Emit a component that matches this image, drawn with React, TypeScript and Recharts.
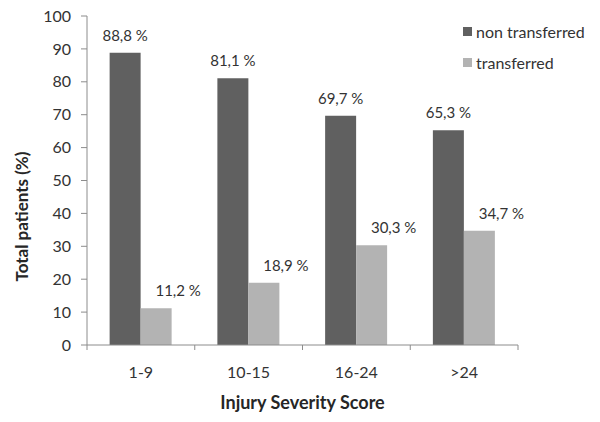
import React from 'react';
import { BarChart, Bar, XAxis, YAxis, Legend, LabelList } from 'recharts';

const categories = ['1-9', '10-15', '16-24', '>24'];
const nonTransferred = [88.8, 81.1, 69.7, 65.3];
const transferred = [11.2, 18.9, 30.3, 34.7];
const yTicks = [0, 10, 20, 30, 40, 50, 60, 70, 80, 90, 100];

const data = categories.map((c, i) => ({
  name: c,
  non: nonTransferred[i],
  tr: transferred[i],
}));

const FONT = 'Lato, "Open Sans", sans-serif';
const TEXT = '#333333';
const AXIS = '#8c8c8c';
const DARK = '#606060';
const LIGHT = '#b3b3b3';
const SERIES_COLORS = [DARK, LIGHT];

const fmt = (v: any) => `${Number(v).toFixed(1).replace('.', ',')}\u00a0%`;

const CategoryTick = (props: any) => {
  const { x, y, payload, index } = props;
  const half = payload && typeof payload.offset === 'number' ? payload.offset : 54;
  const axisY = y - 21;
  return (
    <g>
      <line x1={x - half} x2={x - half} y1={axisY} y2={axisY + 5} stroke={AXIS} />
      {index === categories.length - 1 && (
        <line x1={x + half} x2={x + half} y1={axisY} y2={axisY + 5} stroke={AXIS} />
      )}
      <text x={x} y={y} dy={11.5} textAnchor="middle" fill={TEXT} fontSize={16} fontFamily={FONT}>
        {payload.value}
      </text>
    </g>
  );
};

const LegendContent = (props: any) => {
  const { payload } = props;
  return (
    <div style={{ whiteSpace: 'nowrap', fontFamily: FONT, fontSize: 16, color: TEXT }}>
      {(payload || []).map((p: any, i: number) => (
        <div key={p.value} style={{ display: 'flex', alignItems: 'center', height: 31 }}>
          <div
            style={{
              width: 9,
              height: 9,
              flex: '0 0 9px',
              background: SERIES_COLORS[i] || p.color,
              marginRight: 4,
            }}
          />
          <span>{p.value}</span>
        </div>
      ))}
    </div>
  );
};

export default function App() {
  return (
    <div style={{ position: 'absolute', left: 0, top: 0, width: 600, height: 422, background: '#fff' }}>
      <BarChart
        width={600}
        height={422}
        data={data}
        margin={{ top: 16, right: 82, left: 0, bottom: 0 }}
        barCategoryGap="21%"
        barGap={0}
      >
        <XAxis
          dataKey="name"
          height={77}
          axisLine={{ stroke: AXIS }}
          tickLine={false}
          tickSize={0}
          tickMargin={21}
          tick={<CategoryTick />}
          interval={0}
          label={{
            value: 'Injury Severity Score',
            position: 'insideBottom',
            offset: 13,
            style: { fontFamily: FONT, fontSize: 18, fontWeight: 700, fill: '#262626' },
          }}
        />
        <YAxis
          width={87}
          domain={[0, 100]}
          ticks={yTicks}
          interval={0}
          axisLine={{ stroke: AXIS }}
          tickLine={{ stroke: AXIS }}
          tickSize={6}
          tickMargin={10}
          tick={{ fontFamily: FONT, fontSize: 16, fill: TEXT }}
          label={{
            value: 'Total patients (%)',
            angle: -90,
            position: 'insideLeft',
            offset: 22,
            dy: 36,
            style: { textAnchor: 'middle', fontFamily: FONT, fontSize: 17, fontWeight: 700, fill: '#262626' },
          }}
        />
        <Legend
          layout="vertical"
          align="right"
          verticalAlign="top"
          content={<LegendContent />}
          wrapperStyle={{ left: 463, top: 16, right: 'auto', bottom: 'auto', width: 0, height: 0, overflow: 'visible' }}
        />
        <Bar dataKey="non" name="non transferred" fill={DARK} isAnimationActive={false}>
          <LabelList
            dataKey="non"
            position="top"
            offset={12}
            formatter={fmt}
            style={{ fontFamily: FONT, fontSize: 15, fill: TEXT }}
          />
        </Bar>
        <Bar dataKey="tr" name="transferred" fill={LIGHT} isAnimationActive={false}>
          <LabelList
            dataKey="tr"
            position="top"
            offset={12}
            dx={22}
            formatter={fmt}
            style={{ fontFamily: FONT, fontSize: 15, fill: TEXT }}
          />
        </Bar>
      </BarChart>
    </div>
  );
}
